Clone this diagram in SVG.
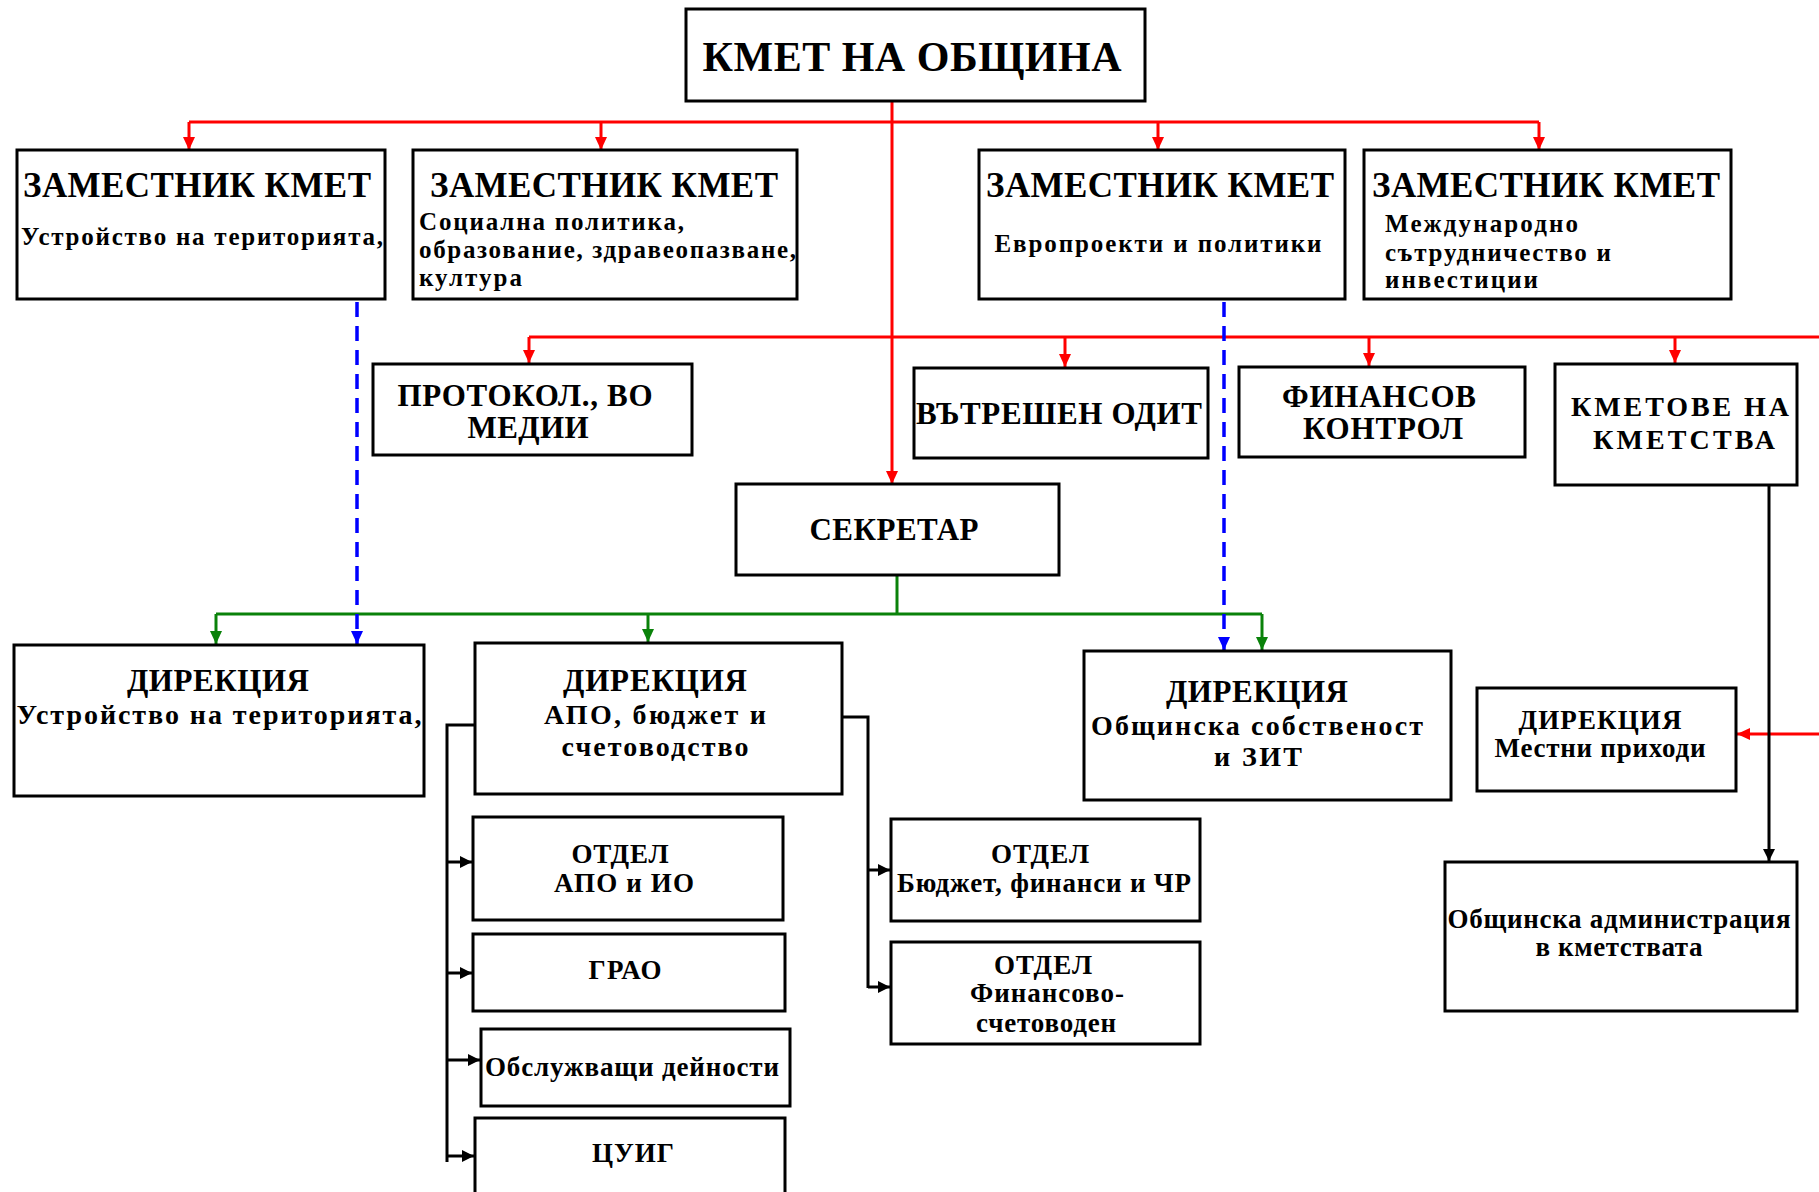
<svg xmlns="http://www.w3.org/2000/svg" width="1819" height="1192" viewBox="0 0 1819 1192">
<style>
.box{fill:#fff;stroke:#000;stroke-width:3}
text{font-family:"Liberation Serif","Times New Roman",serif;font-weight:bold;fill:#000}
.m{text-anchor:middle}
.s{text-anchor:start}
.f46{font-size:42px}
.f33{font-size:35px}
.f25{font-size:25px}
.f30{font-size:31px}
.f29{font-size:31px}
.f28{font-size:28px}
.f27{font-size:27px}
.f26{font-size:27px}
.red{stroke:#ff0000;stroke-width:3;fill:none}
.grn{stroke:#0a820a;stroke-width:3;fill:none}
.blu{stroke:#0000ff;stroke-width:3.5;fill:none;stroke-dasharray:15 9}
.blk{stroke:#000;stroke-width:3;fill:none}
</style>
<defs>
<marker id="aR" markerUnits="userSpaceOnUse" markerWidth="13" markerHeight="12" refX="13" refY="6" orient="auto"><path d="M0,0 L13,6 L0,12 z" fill="#ff0000"/></marker>
<marker id="aG" markerUnits="userSpaceOnUse" markerWidth="13" markerHeight="12" refX="13" refY="6" orient="auto"><path d="M0,0 L13,6 L0,12 z" fill="#0a820a"/></marker>
<marker id="aB" markerUnits="userSpaceOnUse" markerWidth="13" markerHeight="12" refX="13" refY="6" orient="auto"><path d="M0,0 L13,6 L0,12 z" fill="#0000ff"/></marker>
<marker id="aK" markerUnits="userSpaceOnUse" markerWidth="12" markerHeight="12" refX="12" refY="6" orient="auto"><path d="M0,0 L12,6 L0,12 z" fill="#000"/></marker>
</defs>
<rect width="1819" height="1192" fill="#fff"/>

<g id="connectors">
<path class="red" d="M892,101 V484" marker-end="url(#aR)"/>
<path class="red" d="M189,122 H1539"/>
<path class="red" d="M189,122 V150" marker-end="url(#aR)"/>
<path class="red" d="M601,122 V150" marker-end="url(#aR)"/>
<path class="red" d="M1158,122 V150" marker-end="url(#aR)"/>
<path class="red" d="M1539,122 V150" marker-end="url(#aR)"/>
<path class="red" d="M529,337 H1819"/>
<path class="red" d="M529,337 V363" marker-end="url(#aR)"/>
<path class="red" d="M1065,337 V367" marker-end="url(#aR)"/>
<path class="red" d="M1369,337 V366" marker-end="url(#aR)"/>
<path class="red" d="M1675,337 V363" marker-end="url(#aR)"/>
<path class="red" d="M1819,734 H1737" marker-end="url(#aR)"/>
<path class="grn" d="M897,575 V614"/>
<path class="grn" d="M216,614 H1262"/>
<path class="grn" d="M216,614 V644" marker-end="url(#aG)"/>
<path class="grn" d="M648,614 V642" marker-end="url(#aG)"/>
<path class="grn" d="M1262,614 V650" marker-end="url(#aG)"/>
<path class="blu" d="M357,302 V644" marker-end="url(#aB)"/>
<path class="blu" d="M1224,302 V650" marker-end="url(#aB)"/>
<path class="blk" d="M475,725 H447 V1162"/>
<path class="blk" d="M447,862 H472" marker-end="url(#aK)"/>
<path class="blk" d="M447,973 H472" marker-end="url(#aK)"/>
<path class="blk" d="M447,1060 H480" marker-end="url(#aK)"/>
<path class="blk" d="M447,1156 H474" marker-end="url(#aK)"/>
<path class="blk" d="M842,717 H868 V988"/>
<path class="blk" d="M868,870 H890" marker-end="url(#aK)"/>
<path class="blk" d="M868,987 H890" marker-end="url(#aK)"/>
<path class="blk" d="M1769,485 V861" marker-end="url(#aK)"/>
</g>

<g id="kmet">
<rect class="box" x="686" y="9" width="459" height="92"/>
<text class="m f46" x="912" y="71" textLength="419" lengthAdjust="spacing">КМЕТ НА ОБЩИНА</text>
</g>
<g id="zam1">
<rect class="box" x="17" y="150" width="368" height="149"/>
<text class="m f33" x="197" y="197" textLength="348" lengthAdjust="spacing">ЗАМЕСТНИК КМЕТ</text>
<text class="s f25" x="21" y="245" textLength="362" lengthAdjust="spacing">Устройство на територията,</text>
</g>
<g id="zam2">
<rect class="box" x="413" y="150" width="384" height="149"/>
<text class="m f33" x="604" y="197" textLength="348" lengthAdjust="spacing">ЗАМЕСТНИК КМЕТ</text>
<text class="s f25" x="419" y="230" textLength="265" lengthAdjust="spacing">Социална политика,</text>
<text class="s f25" x="419" y="258" textLength="377" lengthAdjust="spacing">образование, здравеопазване,</text>
<text class="s f25" x="419" y="286" textLength="103" lengthAdjust="spacing">култура</text>
</g>
<g id="zam3">
<rect class="box" x="979" y="150" width="366" height="149"/>
<text class="m f33" x="1160" y="197" textLength="348" lengthAdjust="spacing">ЗАМЕСТНИК КМЕТ</text>
<text class="m f25" x="1158" y="252" textLength="327" lengthAdjust="spacing">Европроекти и политики</text>
</g>
<g id="zam4">
<rect class="box" x="1364" y="150" width="367" height="149"/>
<text class="m f33" x="1546" y="197" textLength="348" lengthAdjust="spacing">ЗАМЕСТНИК КМЕТ</text>
<text class="s f25" x="1385" y="232" textLength="193" lengthAdjust="spacing">Международно</text>
<text class="s f25" x="1385" y="261" textLength="226" lengthAdjust="spacing">сътрудничество и</text>
<text class="s f25" x="1385" y="288" textLength="153" lengthAdjust="spacing">инвестиции</text>
</g>
<g id="protokol">
<rect class="box" x="373" y="364" width="319" height="91"/>
<text class="m f30" x="525" y="406" textLength="255" lengthAdjust="spacing">ПРОТОКОЛ., ВО</text>
<text class="m f30" x="528" y="438" textLength="121" lengthAdjust="spacing">МЕДИИ</text>
</g>
<g id="odit">
<rect class="box" x="914" y="368" width="294" height="90"/>
<text class="m f30" x="1059" y="424" textLength="286" lengthAdjust="spacing">ВЪТРЕШЕН ОДИТ</text>
</g>
<g id="fin-kontrol">
<rect class="box" x="1239" y="367" width="286" height="90"/>
<text class="m f30" x="1379" y="407" textLength="194" lengthAdjust="spacing">ФИНАНСОВ</text>
<text class="m f30" x="1383" y="439" textLength="160" lengthAdjust="spacing">КОНТРОЛ</text>
</g>
<g id="kmetove">
<rect class="box" x="1555" y="364" width="242" height="121"/>
<text class="m f28" x="1680" y="416" textLength="218" lengthAdjust="spacing">КМЕТОВЕ НА</text>
<text class="m f28" x="1684" y="449" textLength="182" lengthAdjust="spacing">КМЕТСТВА</text>
</g>
<g id="sekretar">
<rect class="box" x="736" y="484" width="323" height="91"/>
<text class="m f29" x="894" y="540" textLength="169" lengthAdjust="spacing">СЕКРЕТАР</text>
</g>
<g id="dir1">
<rect class="box" x="14" y="645" width="410" height="151"/>
<text class="m f29" x="218" y="691" textLength="182" lengthAdjust="spacing">ДИРЕКЦИЯ</text>
<text class="m f28" x="219" y="724" textLength="405" lengthAdjust="spacing">Устройство на територията,</text>
</g>
<g id="dir2">
<rect class="box" x="475" y="643" width="367" height="151"/>
<text class="m f29" x="655" y="691" textLength="184" lengthAdjust="spacing">ДИРЕКЦИЯ</text>
<text class="m f28" x="655" y="724" textLength="222" lengthAdjust="spacing">АПО, бюджет и</text>
<text class="m f28" x="655" y="756" textLength="187" lengthAdjust="spacing">счетоводство</text>
</g>
<g id="otdel-apo">
<rect class="box" x="473" y="817" width="310" height="103"/>
<text class="m f27" x="620" y="863" textLength="97" lengthAdjust="spacing">ОТДЕЛ</text>
<text class="m f27" x="624" y="892" textLength="140" lengthAdjust="spacing">АПО и ИО</text>
</g>
<g id="grao">
<rect class="box" x="473" y="934" width="312" height="77"/>
<text class="m f27" x="625" y="979" textLength="73" lengthAdjust="spacing">ГРАО</text>
</g>
<g id="obsluzhvashti">
<rect class="box" x="481" y="1029" width="309" height="77"/>
<text class="m f27" x="632" y="1076" textLength="294" lengthAdjust="spacing">Обслужващи дейности</text>
</g>
<g id="cuig">
<rect class="box" x="475" y="1118" width="310" height="90"/>
<text class="m f27" x="633" y="1162" textLength="82" lengthAdjust="spacing">ЦУИГ</text>
</g>
<g id="dir3">
<rect class="box" x="1084" y="651" width="367" height="149"/>
<text class="m f29" x="1257" y="702" textLength="182" lengthAdjust="spacing">ДИРЕКЦИЯ</text>
<text class="m f28" x="1257" y="735" textLength="332" lengthAdjust="spacing">Общинска собственост</text>
<text class="m f28" x="1258" y="766" textLength="88" lengthAdjust="spacing">и ЗИТ</text>
</g>
<g id="dir4">
<rect class="box" x="1477" y="688" width="259" height="103"/>
<text class="m f26" x="1600" y="729" textLength="163" lengthAdjust="spacing">ДИРЕКЦИЯ</text>
<text class="m f26" x="1600" y="757" textLength="211" lengthAdjust="spacing">Местни приходи</text>
</g>
<g id="otdel-byudzhet">
<rect class="box" x="891" y="819" width="309" height="102"/>
<text class="m f27" x="1040" y="863" textLength="98" lengthAdjust="spacing">ОТДЕЛ</text>
<text class="m f27" x="1044" y="892" textLength="294" lengthAdjust="spacing">Бюджет, финанси и ЧР</text>
</g>
<g id="otdel-fin">
<rect class="box" x="891" y="942" width="309" height="102"/>
<text class="m f27" x="1043" y="974" textLength="98" lengthAdjust="spacing">ОТДЕЛ</text>
<text class="m f27" x="1047" y="1002" textLength="154" lengthAdjust="spacing">Финансово-</text>
<text class="m f27" x="1046" y="1032" textLength="140" lengthAdjust="spacing">счетоводен</text>
</g>
<g id="obshtinska-admin">
<rect class="box" x="1445" y="862" width="352" height="149"/>
<text class="m f27" x="1619" y="928" textLength="343" lengthAdjust="spacing">Общинска администрация</text>
<text class="m f27" x="1619" y="956" textLength="167" lengthAdjust="spacing">в кметствата</text>
</g>
</svg>
